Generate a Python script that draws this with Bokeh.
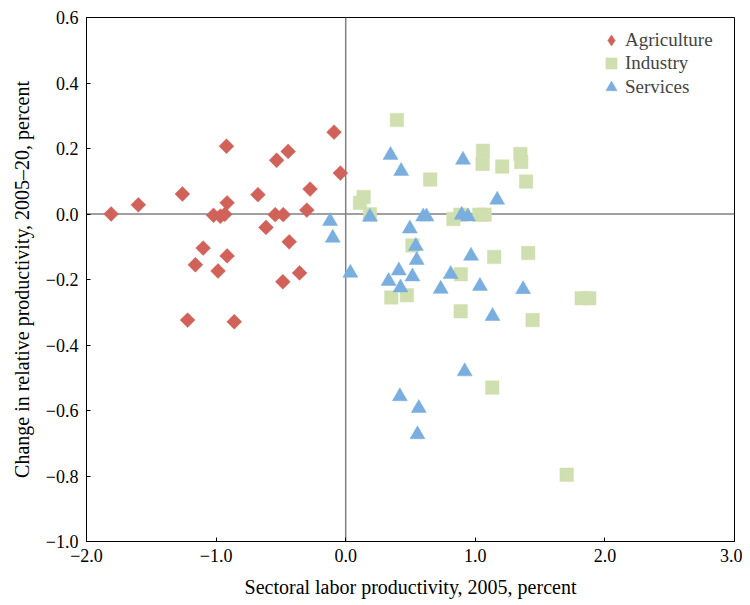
from bokeh.plotting import figure
from bokeh.models import Span, FixedTicker, Legend, LegendItem
from bokeh.embed import file_html
from bokeh.resources import INLINE
import math

# Agriculture (x: sectoral labor productivity 2005, y: change in relative productivity)
agri_x = [-1.81, -1.60, -1.26, -0.92, -0.915, -1.02, -0.967, -0.933, -1.10, -1.16, -0.985,
          -0.915, -1.22, -0.86, -0.677, -0.533, -0.444, -0.615, -0.544, -0.482, -0.436,
          -0.485, -0.356, -0.300, -0.275, -0.090, -0.041]
agri_y = [0.0, 0.028, 0.061, 0.207, 0.034, -0.004, -0.007, -0.001, -0.104, -0.155, -0.174,
          -0.128, -0.324, -0.329, 0.059, 0.164, 0.191, -0.041, -0.002, -0.002, -0.085,
          -0.207, -0.180, 0.012, 0.076, 0.250, 0.125]

# Industry
ind_x = [0.395, 0.138, 0.110, 0.187, 0.652, 1.059, 1.056, 1.208, 1.348, 1.354, 1.392,
         0.831, 0.885, 1.031, 1.072, 0.515, 1.146, 1.408, 0.888, 0.352, 0.472, 0.887,
         1.442, 1.821, 1.879, 1.131, 1.705]
ind_y = [0.287, 0.052, 0.034, -0.001, 0.105, 0.193, 0.153, 0.145, 0.183, 0.159, 0.099,
         -0.015, -0.002, -0.002, -0.002, -0.096, -0.131, -0.119, -0.184, -0.255, -0.248,
         -0.297, -0.324, -0.257, -0.257, -0.530, -0.796]

# Services
serv_x = [-0.121, -0.100, 0.187, 0.346, 0.428, 0.036, 0.495, 0.541, 0.548, 0.410, 0.331,
          0.423, 0.515, 0.598, 0.623, 0.733, 0.810, 0.905, 0.895, 0.944, 0.967, 1.036,
          1.169, 1.369, 1.133, 0.918, 0.418, 0.564, 0.554]
serv_y = [-0.022, -0.073, -0.009, 0.180, 0.131, -0.180, -0.045, -0.098, -0.141, -0.173,
          -0.205, -0.225, -0.191, -0.008, -0.008, -0.229, -0.184, 0.165, -0.003, -0.008,
          -0.128, -0.220, 0.043, -0.230, -0.312, -0.481, -0.557, -0.593, -0.673]

x_ticks = [-2, -1, 0, 1, 2, 3]
x_labels = ["\u22122.0", "\u22121.0", "0.0", "1.0", "2.0", "3.0"]
y_ticks = [-1.0, -0.8, -0.6, -0.4, -0.2, 0.0, 0.2, 0.4, 0.6]
y_labels = ["\u22121.0", "\u22120.8", "\u22120.6", "\u22120.4", "\u22120.2", "0.0", "0.2", "0.4", "0.6"]

series_names = ["Agriculture", "Industry", "Services"]

FONT = "Liberation Serif"

p = figure(frame_width=648, frame_height=524, x_range=(-2, 3), y_range=(-1, 0.6),
           output_backend="svg", toolbar_location=None,
           min_border_left=86, min_border_top=17, min_border_right=8, min_border_bottom=56)
p.background_fill_color = "white"
p.border_fill_color = "white"
p.outline_line_color = "black"
p.outline_line_width = 1
p.xgrid.visible = False
p.ygrid.visible = False

for ax in (p.xaxis[0], p.yaxis[0]):
    ax.major_tick_in = 4
    ax.major_tick_out = 0
    ax.minor_tick_in = 0
    ax.minor_tick_out = 0
    ax.axis_line_color = "black"
    ax.major_tick_line_color = "black"
    ax.major_label_text_font = FONT
    ax.major_label_text_font_size = "18px"
    ax.major_label_text_font_style = "normal"
    ax.major_label_text_color = "black"
    ax.axis_label_text_font = FONT
    ax.axis_label_text_font_size = "20px"
    ax.axis_label_text_font_style = "normal"
    ax.axis_label_text_color = "black"

p.xaxis.ticker = FixedTicker(ticks=x_ticks)
p.xaxis.major_label_overrides = dict(zip(x_ticks, x_labels))
p.yaxis.ticker = FixedTicker(ticks=y_ticks)
p.yaxis.major_label_overrides = dict(zip(y_ticks, y_labels))
p.xaxis.axis_label = "Sectoral labor productivity, 2005, percent"
p.yaxis.axis_label = "Change in relative productivity, 2005\u201320, percent"
p.xaxis.major_label_standoff = 7
p.xaxis.axis_label_standoff = 11
p.yaxis.major_label_standoff = 8
p.yaxis.axis_label_standoff = 10

p.add_layout(Span(location=0, dimension="height", line_color="#808080", line_width=1.5, level="underlay"))
p.add_layout(Span(location=0, dimension="width", line_color="#808080", line_width=1.5, level="underlay"))

r_a = p.scatter(agri_x, agri_y, marker="square", angle=math.pi / 4, size=10.5,
                fill_color="#D0625A", line_color="#D0625A", line_width=0.5)
r_i = p.scatter(ind_x, ind_y, marker="square", size=13.5,
                fill_color="#D0DFAF", line_color="#D0DFAF", line_width=0.5)
r_s = p.scatter(serv_x, serv_y, marker="triangle", size=15,
                fill_color="#7AAEDE", line_color="#7AAEDE", line_width=0.5)
# legend-only renderer so that the legend shows a diamond
r_a_leg = p.scatter([float("nan")], [float("nan")], marker="diamond", size=10,
                    fill_color="#D0625A", line_color="#D0625A", line_width=0.5)

leg_renderers = [r_a_leg, r_i, r_s]
leg_locs = [(511, 487), (511, 464), (511, 440)]
for name, rend, loc in zip(series_names, leg_renderers, leg_locs):
    lg = Legend(items=[LegendItem(label=name, renderers=[rend])],
                location=loc, padding=0, spacing=0, margin=0,
                glyph_width=28, glyph_height=28, label_height=24, label_standoff=0,
                label_text_font=FONT, label_text_font_size="19px",
                label_text_font_style="normal",
                border_line_color=None, background_fill_alpha=0)
    p.add_layout(lg)

open("out.html", "w").write(file_html(p, INLINE))
